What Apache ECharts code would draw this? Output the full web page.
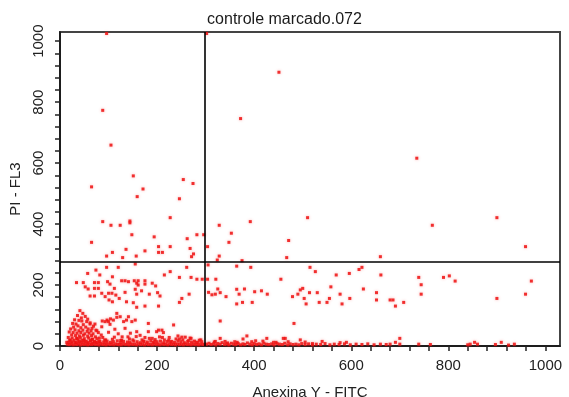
<!DOCTYPE html>
<html>
<head>
<meta charset="utf-8">
<script src="https://cdn.jsdelivr.net/npm/echarts@6/dist/echarts.min.js"></script>
<style>
html,body{margin:0;padding:0;background:#fff;}
#chart{width:569px;height:397px;}
</style>
</head>
<body>
<div id="chart"></div>
<script>
// ---- data (Anexina V - FITC vs PI - FL3) ----
const chartTitle = 'controle marcado.072';
const xAxisName = 'Anexina Y - FITC';
const yAxisName = 'PI - FL3';
const xTickLabels = [0, 200, 400, 600, 800, 1000];
const yTickLabels = [0, 200, 400, 600, 800, 1000];
const quadrantX = 299;
const quadrantY = 275;

// sparse events above the horizontal gate
const upperEvents = [
 [96,1025],[302,1025],[451,898],[88,773],[372,746],[105,659],[735,616],[151,558],[254,546],[274,533],
 [65,522],[171,515],[159,490],[246,483],[227,421],[510,421],[900,421],[88,408],[144,410],[144,404],
 [392,408],[105,396],[124,396],[328,396],[767,396],[353,370],[148,365],[282,365],[296,365],[194,358],
 [262,352],[65,340],[348,340],[471,346],[959,326],[203,326],[227,326],[304,326],[268,320],[136,317],
 [175,312],[108,307],[203,307],[211,307],[275,302],[96,295],[157,295],[328,295],[271,293],[660,293],
 [129,290],[467,290],[324,282],[375,280]
];

// events between the low band and the horizontal gate
const middleEvents = [
 [155,269],[305,266],[364,262],[393,258],[96,258],[120,258],[261,258],[515,258],[622,258],[616,251],
 [74,249],[227,244],[526,244],[57,238],[596,238],[215,233],[82,233],[569,233],[661,233],[802,230],
 [108,227],[246,225],[270,225],[739,225],[790,225],[282,219],[293,219],[304,219],[321,219],[455,219],
 [814,213],[971,213],[98,211],[141,211],[127,214],[134,214],[153,214],[161,214],[175,214],[34,208],
 [48,208],[71,208],[79,208],[190,206],[158,206],[103,203],[175,203],[161,200],[744,201],[197,197],
 [52,194],[558,194],[112,189],[71,189],[79,189],[500,189],[58,187],[325,187],[380,187],[625,187],
 [155,186],[364,186],[495,184],[168,181],[415,181],[401,178],[134,176],[201,175],[330,175],[514,175],
 [530,175],[652,175],[86,173],[100,173],[107,173],[158,170],[184,170],[266,170],[320,170],[369,170],
 [427,170],[490,170],[577,170],[744,170],[959,170],[115,167],[62,164],[71,164],[206,164],[93,162],
 [342,162],[479,162],[122,156],[251,156],[503,156],[555,156],[597,156],[900,156],[101,151],[652,151],
 [680,151],[686,151],[108,145],[137,145],[246,143],[376,143],[396,143],[534,143],[550,143],[708,143],
 [151,142],[364,138],[507,138],[581,138],[691,131],[175,131],[203,131],[158,127],[306,176],[313,168]
];

// dense low cluster (early apoptotic / live region)
const clusterEvents = [
 [41,116],[47,107],[52,97],[36,100],[44,92],[57,88],[30,86],[39,84],[45,82],[55,80],[62,76],[26,74],
 [33,72],[48,70],[62,72],[69,65],[72,72],[37,66],[28,62],[43,60],[53,62],[58,56],[66,58],[22,56],
 [31,53],[39,50],[47,52],[56,48],[64,50],[74,52],[19,46],[27,44],[35,42],[43,44],[51,40],[60,42],
 [68,40],[79,44],[24,36],[32,34],[40,33],[48,35],[57,32],[65,34],[73,30],[85,36],[17,28],[25,26],
 [34,25],[42,27],[50,24],[59,26],[67,22],[76,24],[88,28],[20,18],[29,19],[37,16],[46,18],[54,15],
 [63,17],[71,14],[80,16],[92,19],[14,12],[23,10],[31,12],[39,9],[48,11],[57,8],[66,10],[74,12],
 [83,9],[95,11],
 [93,80],[100,80],[103,71],[110,85],[117,107],[124,96],[117,94],[131,80],[137,85],[141,96],[148,80],
 [155,85],[134,58],[86,63],[76,50],[104,89],[97,85],[87,82],[158,47],[182,74],[182,47],[199,47],
 [203,52],[213,44],[210,52],[234,69],[243,33],[251,29],[258,29],[246,23],[120,40],[140,30],[165,35],
 [190,25],[215,20],[108,22],[125,18],[150,20],[172,16],[195,14],[230,15],[265,18],[280,12],[100,45],
 [113,55],[128,30],[145,42],[175,28],[205,30],[225,28],[270,25],[290,20],
 [330,82],[482,74],[385,33],[377,23],[426,25],[460,25],[464,25],[495,20],[577,11],[403,17],[330,25],
 [320,15],[345,10],[360,14],[440,12],[520,8]
];

// the bottom band of events along the x axis
const bandEvents = [
 [15,6],[19,5],[23,7],[27,4],[31,6],[35,5],[38,8],[42,4],[46,6],[50,5],[53,7],[57,4],[61,6],[65,5],
 [68,8],[72,5],[76,6],[80,4],[84,7],[88,5],[92,6],[95,4],[99,7],[103,5],[107,6],[111,4],[115,7],
 [119,5],[122,6],[126,4],[130,7],[134,5],[138,6],[142,4],[146,7],[150,5],[154,6],[158,4],[162,7],
 [166,5],[170,6],[174,4],[178,7],[182,5],[186,6],[190,4],[194,7],[198,5],[202,6],[206,4],[210,7],
 [214,5],[218,6],[222,4],[226,7],[230,5],[234,6],[238,4],[242,7],[246,5],[250,6],[254,4],[258,7],
 [262,5],[266,6],[270,4],[274,7],[278,5],[282,6],[286,4],[290,7],[294,5],[298,6],
 [18,12],[25,14],[33,11],[40,16],[44,13],[52,15],[58,12],[63,17],[71,14],[77,11],[82,15],[90,13],
 [97,16],[104,12],[110,14],[118,17],[125,11],[131,15],[139,13],[144,12],[152,16],[159,14],[166,11],
 [173,15],[180,13],[187,17],[192,12],[200,14],[207,16],[214,11],[221,15],[228,13],[236,12],[243,17],
 [249,14],[256,11],[263,15],[271,13],[277,16],[284,12],[292,14],
 [21,20],[36,24],[49,19],[66,22],[81,26],[94,20],[112,29],[127,19],[143,23],[157,31],[169,20],
 [184,25],[196,21],[211,28],[224,19],[239,23],[253,20],[268,26],[287,19],
 [302,6],[307,9],[311,5],[316,7],[321,4],[325,8],[330,6],[334,11],[339,5],[344,7],[348,4],[353,9],
 [358,6],[362,5],[367,8],[372,4],[377,7],[381,5],[386,10],[391,6],[396,4],[400,8],[405,5],[410,7],
 [415,4],[420,9],[425,6],[430,5],[436,7],[441,4],[447,8],[452,6],[458,5],[463,9],[469,4],[474,7],
 [480,5],[486,6],[492,4],[498,8],[505,5],[512,7],[520,4],[528,6],[537,5],[546,8],[556,4],[565,6],
 [575,5],[586,7],[598,4],[610,6],[622,5],[634,7],[647,4],[660,6],[672,5],[680,6],[691,12],[700,25],
 [700,6],[739,6],[763,5],[845,6],[854,12],[860,6],[909,12],[936,6],[840,4],[897,5],[924,3],
 [318,13],[340,15],[365,12],[395,14],[418,16],[445,12],[470,14],[505,13],[540,15],[590,12]
];

const allEvents = [].concat(upperEvents, middleEvents, clusterEvents, bandEvents);

const chart = echarts.init(document.getElementById('chart'));
const labelFmt = list => v => (list.indexOf(v) >= 0 ? String(v) : '');
const font = 'Liberation Sans, Arial, sans-serif';
chart.setOption({
  animation: false,
  title: {
    text: chartTitle, left: 'center', top: 7,
    textStyle: { fontFamily: font, fontSize: 16, fontWeight: 'normal', color: '#1a1a1a' }
  },
  grid: { left: 60, right: 9, top: 32, bottom: 51, show: true, borderColor: '#444', borderWidth: 2, backgroundColor: '#fff', containLabel: false, outerBoundsMode: 'none' },
  xAxis: {
    type: 'value', min: 0, max: 1030, interval: 40,
    name: xAxisName, nameLocation: 'middle', nameGap: 39,
    nameTextStyle: { fontFamily: font, fontSize: 15, color: '#222' },
    axisLine: { show: true, lineStyle: { color: '#111', width: 1.5 } },
    axisTick: { show: true, length: 5, lineStyle: { color: '#222', width: 1.5 } },
    axisLabel: { formatter: labelFmt(xTickLabels), margin: 12, fontFamily: font, fontSize: 15, color: '#222', showMaxLabel: false },
    splitLine: { show: false }
  },
  yAxis: {
    type: 'value', min: 0, max: 1030, interval: 40,
    name: yAxisName, nameLocation: 'middle', nameGap: 36, nameRotate: 90,
    nameTextStyle: { fontFamily: font, fontSize: 15, color: '#222' },
    axisLine: { show: true, lineStyle: { color: '#111', width: 1.5 } },
    axisTick: { show: true, length: 5, lineStyle: { color: '#222', width: 1.5 } },
    axisLabel: { formatter: labelFmt(yTickLabels), rotate: 90, margin: 14, fontFamily: font, fontSize: 15, color: '#222', showMaxLabel: false },
    splitLine: { show: false }
  },
  series: [{
    type: 'scatter',
    data: allEvents,
    symbol: 'rect',
    symbolSize: 3,
    itemStyle: { color: '#ee1111', opacity: 0.85, shadowBlur: 3, shadowColor: 'rgba(245,70,70,0.5)' },
    silent: true,
    markLine: {
      silent: true, symbol: ['none', 'none'], label: { show: false },
      lineStyle: { color: '#000', width: 1.6, type: 'solid' },
      data: [{ xAxis: quadrantX }, { yAxis: quadrantY }]
    }
  }]
});
</script>
</body>
</html>
